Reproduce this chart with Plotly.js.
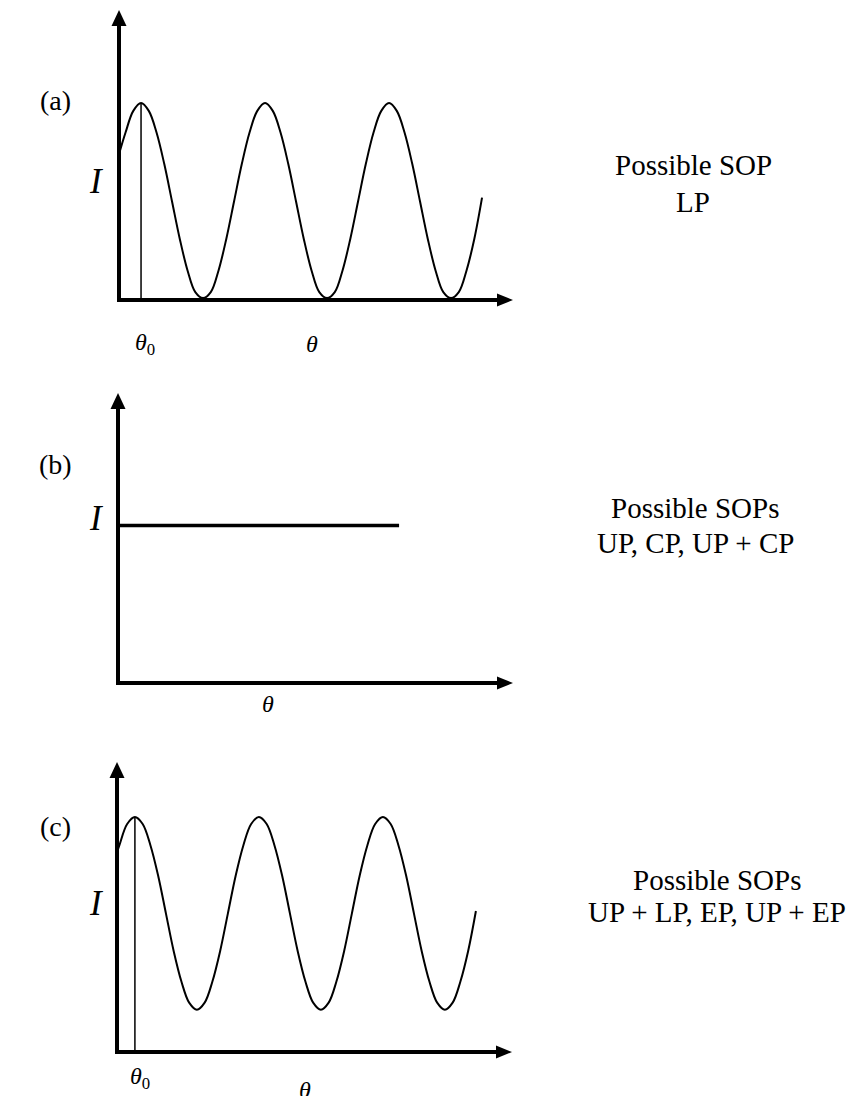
<!DOCTYPE html>
<html><head><meta charset="utf-8">
<script src="https://cdn.plot.ly/plotly-3.0.1.min.js"></script>
<style>html,body{margin:0;padding:0;background:#fff}#chart{width:857px;height:1096px}</style>
</head><body><div id="chart"></div>
<script>
// ---------- data ----------
const panelLabels = ['(a)', '(b)', '(c)'];
const sopTitles = ['Possible SOP', 'Possible SOPs', 'Possible SOPs'];
const sopLists = ['LP', 'UP, CP, UP + CP', 'UP + LP, EP, UP + EP'];

// panel (a): analyser angle (deg) vs intensity (arb. units)
const thetaA = [0, 9.5, 20.75, 32, 43.25, 54.5, 65.75, 77, 88.25, 99.5, 110.75, 122, 133.25, 144.5, 155.75, 167, 178.25, 189.5, 200.75, 212, 223.25, 234.5, 245.75, 257, 268.25, 279.5, 290.75, 302, 313.25, 324.5, 335.75, 347, 358.25, 369.5, 380.75, 392, 403.25, 414.5, 425.75, 437, 448.25, 459.5, 470.75, 482, 493.25, 504.5, 515.75, 527];
const intensityA = [0.74, 0.85, 0.96,
  1.0, 0.96, 0.85, 0.69, 0.50, 0.31, 0.15, 0.04, 0.01, 0.04, 0.15, 0.31, 0.50, 0.69, 0.85, 0.96,
  1.0, 0.96, 0.85, 0.69, 0.50, 0.31, 0.15, 0.04, 0.01, 0.04, 0.15, 0.31, 0.50, 0.69, 0.85, 0.96,
  1.0, 0.96, 0.85, 0.69, 0.50, 0.31, 0.15, 0.04, 0.01, 0.04, 0.15, 0.31, 0.52];
const theta0A = 32;
const peakA = 1.0;

// panel (b): constant intensity
const thetaB = [0, 408];
const intensityB = [0.80, 0.80];

// panel (c)
const thetaC = [0, 3.5, 14.75, 26, 37.25, 48.5, 59.75, 71, 82.25, 93.5, 104.75, 116, 127.25, 138.5, 149.75, 161, 172.25, 183.5, 194.75, 206, 217.25, 228.5, 239.75, 251, 262.25, 273.5, 284.75, 296, 307.25, 318.5, 329.75, 341, 352.25, 363.5, 374.75, 386, 397.25, 408.5, 419.75, 431, 442.25, 453.5, 464.75, 476, 487.25, 498.5, 509.75, 521];
const intensityC = [0.85, 0.88, 0.97,
  1.0, 0.97, 0.88, 0.75, 0.59, 0.43, 0.30, 0.21, 0.18, 0.21, 0.30, 0.43, 0.59, 0.75, 0.88, 0.97,
  1.0, 0.97, 0.88, 0.75, 0.59, 0.43, 0.30, 0.21, 0.18, 0.21, 0.30, 0.43, 0.59, 0.75, 0.88, 0.97,
  1.0, 0.97, 0.88, 0.75, 0.59, 0.43, 0.30, 0.21, 0.18, 0.21, 0.30, 0.43, 0.60];
const theta0C = 26;
const peakC = 1.0;

// ---------- layout geometry ----------
const W = 857, H = 1096;
const FONT = 'Liberation Serif, Times New Roman, serif';
const panels = [
  {ox: 119, oy: 300, sx: 124 / 180, sy: 197, tipX: 513, tipY: 10, box: [100, 525, 2, 312]},
  {ox: 118, oy: 683, sx: 124 / 180, sy: 197, tipX: 513, tipY: 393, box: [100, 525, 384, 695]},
  {ox: 117, oy: 1052, sx: 124 / 180, sy: 235, tipX: 512, tipY: 762, box: [100, 525, 752, 1064]}
];
function toData(p, px, py) { return [(px - p.ox) / p.sx, (p.oy - py) / p.sy]; }

const layout = {
  width: W, height: H,
  margin: {l: 0, r: 0, t: 0, b: 0},
  paper_bgcolor: '#fff', plot_bgcolor: 'rgba(0,0,0,0)',
  showlegend: false,
  shapes: [], annotations: []
};
const traces = [];
const seriesX = [thetaA, thetaB, thetaC];
const seriesY = [intensityA, intensityB, intensityC];
const widths = [2, 3.5, 2];

panels.forEach((p, i) => {
  const n = i === 0 ? '' : String(i + 1);
  const xr = 'x' + n, yr = 'y' + n;
  const [l, r, t, b] = p.box;
  layout['xaxis' + n] = {domain: [l / W, r / W], range: [(l - p.ox) / p.sx, (r - p.ox) / p.sx], visible: false, fixedrange: true, anchor: yr};
  layout['yaxis' + n] = {domain: [1 - b / H, 1 - t / H], range: [(p.oy - b) / p.sy, (p.oy - t) / p.sy], visible: false, fixedrange: true, anchor: xr};

  traces.push({x: seriesX[i], y: seriesY[i], xaxis: xr, yaxis: yr, type: 'scatter', mode: 'lines',
    line: {color: '#000', width: widths[i], shape: i === 1 ? 'linear' : 'spline', smoothing: 1},
    hoverinfo: 'skip'});

  const line = (a, c, w) => ({type: 'line', xref: xr, yref: yr, x0: a[0], y0: a[1], x1: c[0], y1: c[1], line: {color: '#000', width: w}});
  const tri = (pts) => ({type: 'path', xref: xr, yref: yr, fillcolor: '#000', line: {width: 0},
    path: 'M' + pts.map(q => q[0] + ',' + q[1]).join('L') + 'Z'});
  // axes with arrowheads
  layout.shapes.push(line(toData(p, p.ox, p.oy + 2), toData(p, p.ox, p.tipY + 14), 4));
  layout.shapes.push(line(toData(p, p.ox - 2, p.oy), toData(p, p.tipX - 13, p.oy), 4));
  layout.shapes.push(tri([toData(p, p.ox, p.tipY), toData(p, p.ox - 7.5, p.tipY + 16), toData(p, p.ox + 7.5, p.tipY + 16)]));
  layout.shapes.push(tri([toData(p, p.tipX, p.oy), toData(p, p.tipX - 16, p.oy - 6.5), toData(p, p.tipX - 16, p.oy + 6.5)]));
});
// theta0 markers
layout.shapes.push({type: 'line', xref: 'x', yref: 'y', x0: theta0A, x1: theta0A, y0: 0, y1: peakA, line: {color: '#000', width: 1.5}});
layout.shapes.push({type: 'line', xref: 'x3', yref: 'y3', x0: theta0C, x1: theta0C, y0: 0, y1: peakC, line: {color: '#000', width: 1.5}});

function ann(text, px, py, size) {
  layout.annotations.push({text: text, xref: 'paper', yref: 'paper', x: px / W, y: 1 - py / H,
    xanchor: 'center', yanchor: 'middle', showarrow: false, font: {family: FONT, size: size, color: '#000'}});
}
const labelY = [101, 465, 826];
const iY = [181, 518, 903];
panelLabels.forEach((t, i) => { ann(t, 55, labelY[i], 28); ann('<i>I</i>', 96, iY[i], 35); });
ann('<i>θ</i><sub>0</sub>', 145, 344, 24);
ann('<i>θ</i>', 312, 344, 24);
ann('<i>θ</i>', 268, 704, 24);
ann('<i>θ</i><sub>0</sub>', 140, 1078, 24);
ann('<i>θ</i>', 305, 1090, 24);

const textPos = [[693, 165, 202], [695, 508, 543], [717, 880, 912]];
sopTitles.forEach((t, i) => {
  ann(t, textPos[i][0], textPos[i][1], 29);
  ann(sopLists[i], textPos[i][0], textPos[i][2], 29);
});

Plotly.newPlot('chart', traces, layout, {staticPlot: true, displayModeBar: false});
</script>
</body></html>
